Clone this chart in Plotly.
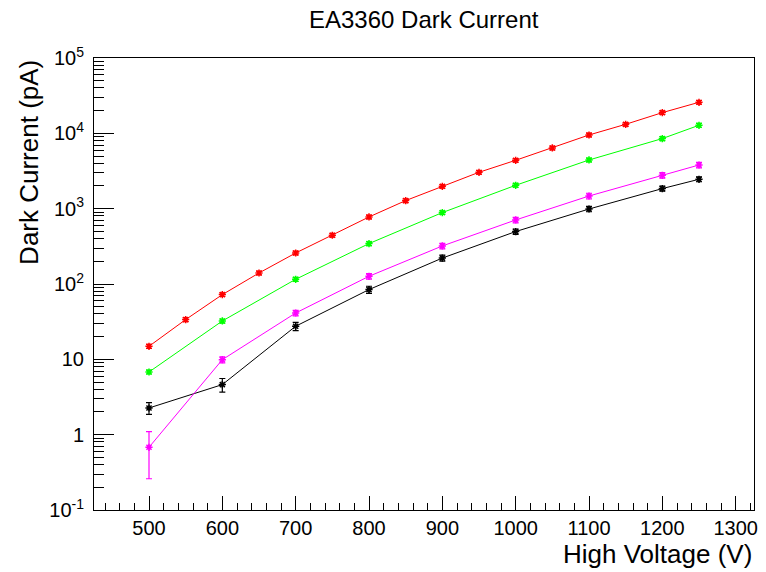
import plotly.graph_objects as go

# --- data ---------------------------------------------------------------
hv_red = [500, 550, 600, 650, 700, 750, 800, 850, 900, 950, 1000, 1050, 1100, 1150, 1200, 1250]
red_vals = [14.9, 33.7, 72.3, 140, 258, 444, 776, 1280, 1982, 3041, 4387, 6393, 9510, 13180, 18840, 25830]
red_err = [0.9, 2, 4, 8, 15, 25, 45, 75, 110, 170, 250, 360, 530, 740, 1060, 1450]

hv = [500, 600, 700, 800, 900, 1000, 1100, 1200, 1250]
green_vals = [6.79, 32.3, 115.5, 344, 887, 2043, 4430, 8520, 12790]
green_err = [0.4, 2, 7, 20, 50, 120, 260, 500, 750]

magenta_vals = [0.68, 9.9, 41.2, 126.6, 320, 708, 1473, 2773, 3800]
magenta_err = [0.42, 0.9, 3.5, 11, 27, 60, 130, 230, 320]

black_vals = [2.26, 4.62, 27.5, 84.3, 221, 497, 990, 1848, 2455]
black_err = [0.4, 0.95, 3.5, 9, 20, 40, 80, 140, 180]

x_ticks = [500, 600, 700, 800, 900, 1000, 1100, 1200, 1300]
y_ticks = [0.1, 1, 10, 100, 1000, 10000, 100000]
y_ticktext = ["10<sup>-1</sup>", "1", "10", "10<sup>2</sup>", "10<sup>3</sup>",
              "10<sup>4</sup>", "10<sup>5</sup>"]

FONT = "Liberation Sans, Arial, Helvetica, sans-serif"

fig = go.Figure()

series = [
    (hv, black_vals, black_err, "#000000"),
    (hv, magenta_vals, magenta_err, "#ff00ff"),
    (hv, green_vals, green_err, "#00ff00"),
    (hv_red, red_vals, red_err, "#ff0000"),
]
for xs, ys, es, col in series:
    fig.add_trace(go.Scatter(
        x=xs, y=ys, mode="lines+markers",
        line=dict(color=col, width=1),
        marker=dict(symbol="asterisk-open", size=6, color=col,
                    line=dict(color=col, width=1.5)),
        error_y=dict(type="data", array=es, color=col, thickness=1.2, width=3),
        showlegend=False,
    ))

minor_y = []
for k in range(-1, 5):
    for d in range(2, 10):
        minor_y.append(d * 10 ** k)

fig.update_layout(
    width=766, height=572,
    margin=dict(l=94, r=8, t=58, b=62),
    paper_bgcolor="white", plot_bgcolor="white",
    font=dict(family=FONT, color="black", size=20),
    xaxis=dict(
        range=[425, 1325], tickvals=x_ticks, ticks="inside", ticklen=14,
        tickwidth=1, tickcolor="black", showgrid=False, zeroline=False,
        showline=True, linecolor="black", linewidth=1, mirror=True,
        tickfont=dict(size=20), ticklabelstandoff=0,
        minor=dict(dtick=20, tick0=0, ticks="inside", ticklen=7,
                   tickcolor="black", showgrid=False),
    ),
    yaxis=dict(
        type="log", range=[-1, 5], tickvals=y_ticks, ticktext=y_ticktext,
        ticks="inside", ticklen=20, tickwidth=1, tickcolor="black",
        showgrid=False, zeroline=False,
        showline=True, linecolor="black", linewidth=1, mirror=True,
        tickfont=dict(size=20), ticklabelstandoff=5,
        minor=dict(tickvals=minor_y, ticks="inside", ticklen=10,
                   tickcolor="black", showgrid=False),
    ),
    annotations=[
        dict(text="EA3360 Dark Current", xref="paper", yref="paper",
             x=0.5, y=1, yanchor="bottom", xanchor="center", yshift=23,
             showarrow=False, font=dict(size=24, family=FONT)),
        dict(text="High Voltage (V)", xref="paper", yref="paper",
             x=1, y=0, xanchor="right", yanchor="top", yshift=-27,
             showarrow=False, font=dict(size=26, family=FONT)),
        dict(text="Dark Current (pA)", xref="paper", yref="paper",
             x=(28 - 94) / 664, y=1, xanchor="center", yanchor="top",
             textangle=-90, showarrow=False, font=dict(size=26, family=FONT)),
    ],
)

fig.write_html("out.html")
